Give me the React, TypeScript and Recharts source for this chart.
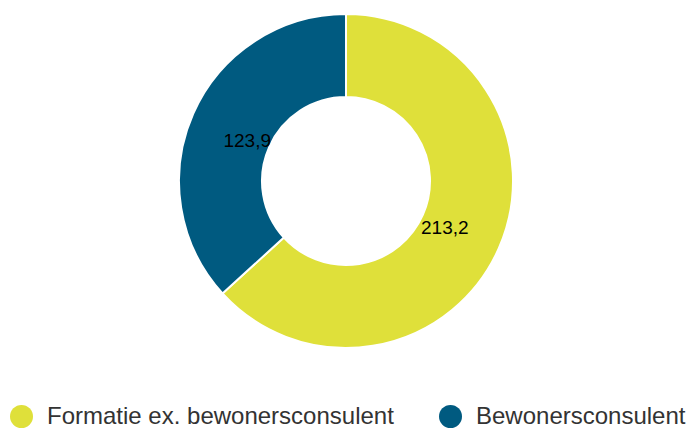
import React from 'react';
import { PieChart, Pie, Cell, Legend } from 'recharts';

const categories = ['Formatie ex. bewonersconsulent', 'Bewonersconsulent'];
const values = [213.2, 123.9];
const COLORS = ['#dfe03a', '#005a80'];

const data = categories.map((name, i) => ({ name, value: values[i] }));

const RAD = Math.PI / 180;

const renderLabel = (props: any) => {
  const { cx, cy, midAngle, value } = props;
  const r = 108;
  const x = cx + r * Math.cos(-midAngle * RAD);
  const y = cy + r * Math.sin(-midAngle * RAD) + 3;
  return (
    <text
      x={x}
      y={y}
      fill="#000"
      textAnchor="middle"
      dominantBaseline="central"
      fontSize={19}
      fontFamily="'Liberation Sans', Arial, sans-serif"
    >
      {String(value).replace('.', ',')}
    </text>
  );
};

const legendX = [10, 439];

const renderLegend = () => (
  <div style={{ position: 'relative', width: 691, height: 20 }}>
    {data.map((d, i) => (
      <div
        key={d.name}
        style={{
          position: 'absolute',
          left: legendX[i],
          top: 0,
          display: 'flex',
          alignItems: 'center',
          height: 20,
        }}
      >
        <span
          style={{
            display: 'inline-block',
            width: 23,
            height: 23,
            flexShrink: 0,
            borderRadius: '50%',
            background: COLORS[i],
            marginRight: 14,
          }}
        />
        <span
          style={{
            fontFamily: "'Liberation Sans', Arial, sans-serif",
            fontSize: 24,
            lineHeight: '20px',
            color: '#333',
            whiteSpace: 'nowrap',
          }}
        >
          {d.name}
        </span>
      </div>
    ))}
  </div>
);

export default function App() {
  return (
    <div style={{ width: 691, height: 430 }}>
      <style>{'body{margin:0;}'}</style>
      <PieChart width={691} height={430} margin={{ top: 0, right: 0, bottom: 0, left: 0 }}>
        <Pie
          data={data}
          dataKey="value"
          nameKey="name"
          cx={346}
          cy={181}
          innerRadius={84}
          outerRadius={167}
          startAngle={90}
          endAngle={-270}
          stroke="#fff"
          strokeWidth={2}
          label={renderLabel}
          labelLine={false}
          isAnimationActive={false}
        >
          {data.map((d, i) => (
            <Cell key={d.name} fill={COLORS[i]} />
          ))}
        </Pie>
        <Legend
          content={renderLegend}
          wrapperStyle={{ position: 'absolute', left: 0, top: 406, width: 691 }}
        />
      </PieChart>
    </div>
  );
}
